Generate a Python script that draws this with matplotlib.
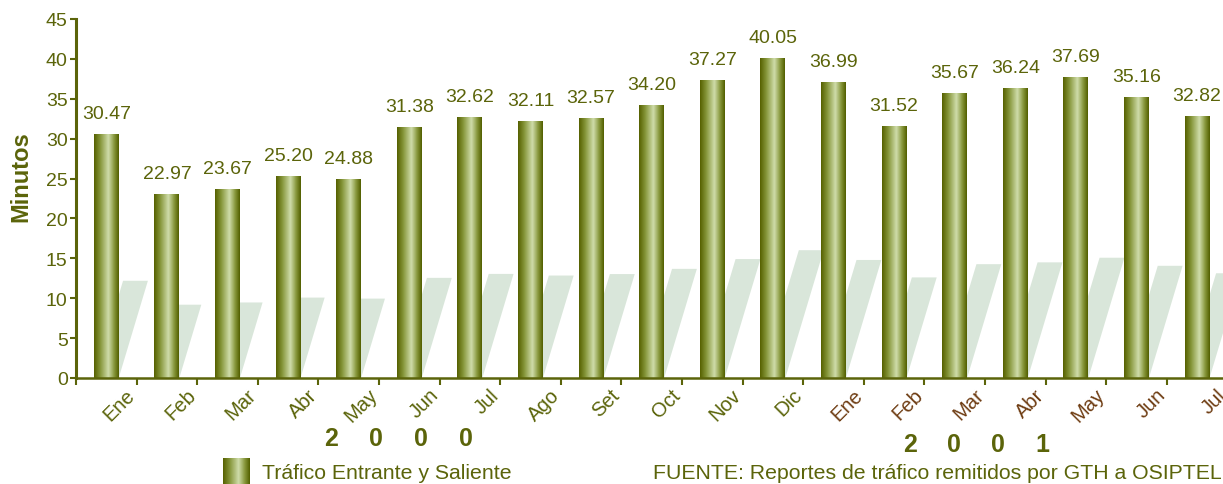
import numpy as np
import matplotlib.pyplot as plt
from matplotlib.colors import LinearSegmentedColormap
from matplotlib.patches import Polygon

plt.rcParams["font.family"] = ["Liberation Sans", "DejaVu Sans"]

meses = ["Ene", "Feb", "Mar", "Abr", "May", "Jun", "Jul", "Ago", "Set", "Oct",
         "Nov", "Dic", "Ene", "Feb", "Mar", "Abr", "May", "Jun", "Jul"]
anios = [2000] * 12 + [2001] * 7
minutos = [30.47, 22.97, 23.67, 25.20, 24.88, 31.38, 32.62, 32.11, 32.57, 34.20,
           37.27, 40.05, 36.99, 31.52, 35.67, 36.24, 37.69, 35.16, 32.82]

oliva = "#5b640a"
marron = "#6e3c12"
sombra = "#d9e6da"
cmap = LinearSegmentedColormap.from_list(
    "cil", [(0, "#566100"), (0.25, "#86963a"), (0.58, "#cfdcaa"),
            (0.82, "#86963a"), (1, "#536000")])
grad = np.linspace(0, 1, 64).reshape(1, -1)

fig = plt.figure(figsize=(12.23, 4.85), dpi=100)
ax = fig.add_axes([76 / 1223, 106 / 485, 1147 / 1223, 359 / 485])

ancho = 0.41
for i, v in enumerate(minutos):
    x0 = i + 0.5 - ancho / 2
    # sombra inclinada detras de la barra
    h = 0.4 * v
    dx = 0.0158 * v
    ax.add_patch(Polygon([(x0, 0), (x0 + ancho, 0), (x0 + ancho + dx, h), (x0 + dx, h)],
                         closed=True, color=sombra, lw=0, zorder=1))
    ax.imshow(grad, cmap=cmap, extent=(x0, x0 + ancho, 0, v), aspect="auto", zorder=2)
    ax.annotate(f"{v:.2f}", (i + 0.5, v), xytext=(0, 9), textcoords="offset points",
                ha="center", va="bottom", fontsize=14, color=oliva)
    ax.annotate(meses[i], xy=(i + 1, 0), xycoords=("data", "axes fraction"),
                xytext=(-8, -5), textcoords="offset points", ha="right", va="top",
                rotation=45, rotation_mode="anchor", fontsize=14.5,
                color=oliva if anios[i] == 2000 else marron)

ax.set_xlim(0, 1147 / 60.6)
ax.set_ylim(0, 45)
ax.set_yticks(range(0, 46, 5))
ax.set_xticks(range(0, 19))
ax.set_xticklabels([])
for s in ["top", "right"]:
    ax.spines[s].set_visible(False)
ax.spines["left"].set_color(oliva)
ax.spines["left"].set_linewidth(2.2)
ax.spines["bottom"].set_color(oliva)
ax.spines["bottom"].set_linewidth(1.8)
ax.tick_params(axis="y", colors=oliva, labelsize=14, length=4, width=1.5, pad=2)
ax.tick_params(axis="x", colors=oliva, length=5, width=1.5)
ax.set_ylabel("Minutos", fontsize=17, fontweight="bold", color=oliva)
ax.yaxis.set_label_coords(-44 / 1147, 0.565)

for k, c in enumerate("2000"):
    fig.text((331 + 45 * k) / 1223, 1 - 439 / 485, c, ha="center", va="center",
             fontsize=18, fontweight="bold", color=oliva)
for k, c in enumerate("2001"):
    fig.text((910 + 44 * k) / 1223, 1 - 445 / 485, c, ha="center", va="center",
             fontsize=18, fontweight="bold", color=oliva)

# leyenda
lax = fig.add_axes([223 / 1223, 0, 27 / 1223, 26 / 485])
lax.imshow(grad, cmap=cmap, aspect="auto")
lax.axis("off")
fig.text(262 / 1223, 1 - 474 / 485, "Tráfico Entrante y Saliente", ha="left",
         va="center", fontsize=15.3, color=oliva)
fig.text(1222 / 1223, 1 - 474 / 485,
         "FUENTE: Reportes de tráfico remitidos por GTH a OSIPTEL",
         ha="right", va="center", fontsize=15.3, color=oliva)

fig.savefig("out.png", dpi=100)
